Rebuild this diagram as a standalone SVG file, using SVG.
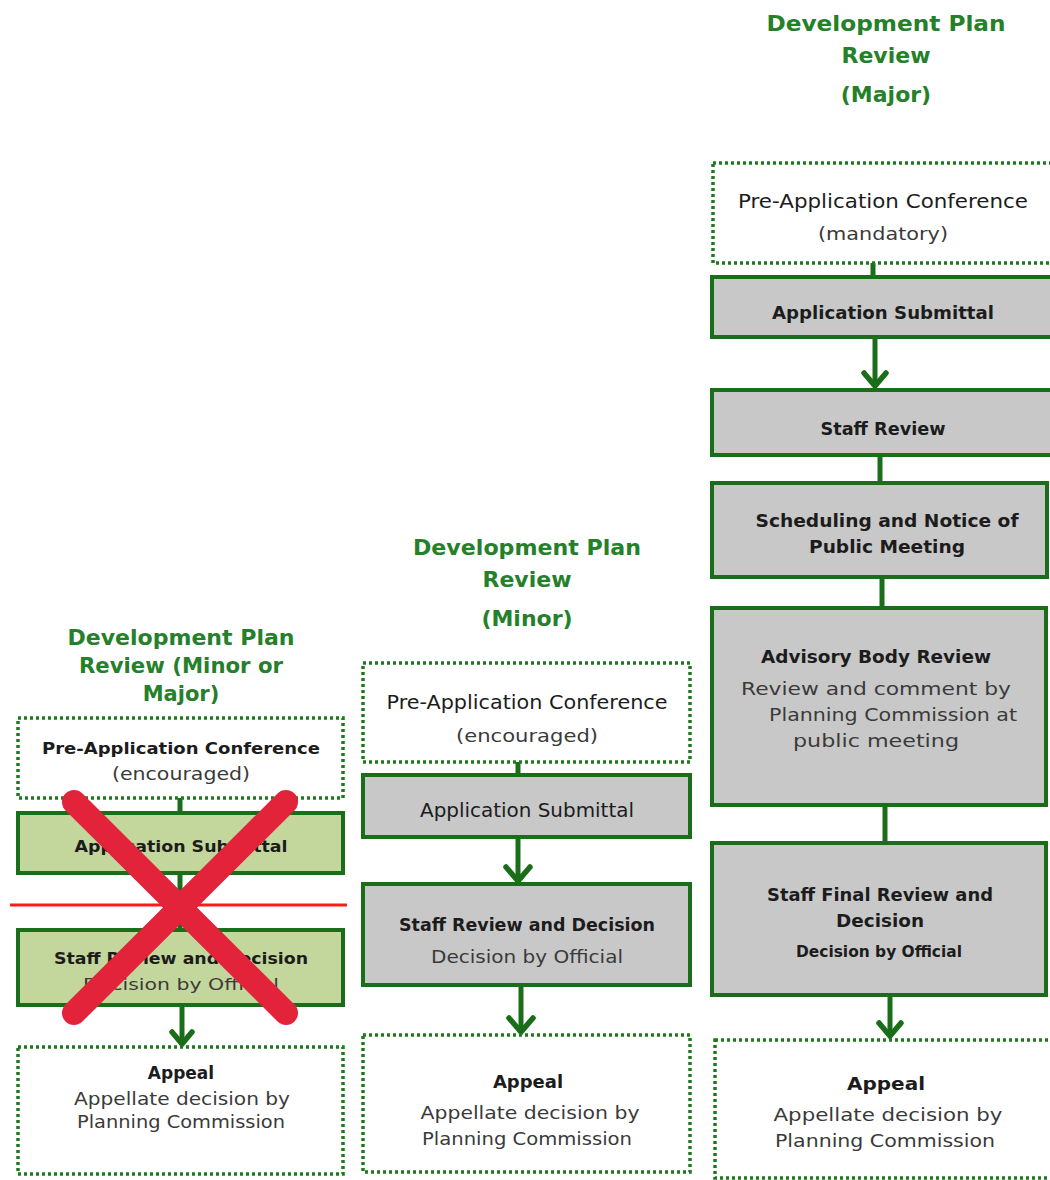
<svg xmlns="http://www.w3.org/2000/svg" width="1050" height="1180" viewBox="0 0 1050 1180">
  <style>
    .title { font-family: "DejaVu Sans", "Liberation Sans", sans-serif; font-weight: bold; fill: #25802a; text-anchor: middle; }
    .head { font-family: "DejaVu Sans", "Liberation Sans", sans-serif; font-weight: bold; fill: #1c1c1c; text-anchor: middle; }
    .sub { font-family: "DejaVu Sans", "Liberation Sans", sans-serif; fill: #3a3a3a; text-anchor: middle; }
    .dark { fill: #1c1c1c; }
    .dotted { fill: #ffffff; stroke: #1d7a1d; stroke-width: 3.5; stroke-dasharray: 3 3; }
    .solid { fill: #c8c8c8; stroke: #1a6e1a; stroke-width: 4; }
    .green { fill: #c3d69b; stroke: #1a6e1a; stroke-width: 4; }
    .link { stroke: #1a6e1a; stroke-width: 5; fill: none; }
    .head-v { stroke: #1a6e1a; stroke-width: 5.5; fill: none; stroke-linecap: round; stroke-linejoin: miter; }
  </style>

  <rect width="1050" height="1180" fill="#ffffff"/>

  <!-- column titles -->
  <g id="title-left">
    <text class="title" x="181" y="645" font-size="21" textLength="227" lengthAdjust="spacingAndGlyphs">Development Plan</text>
    <text class="title" x="181" y="673" font-size="21" textLength="204" lengthAdjust="spacingAndGlyphs">Review (Minor or</text>
    <text class="title" x="181" y="701" font-size="21">Major)</text>
  </g>
  <g id="title-mid">
    <text class="title" x="527" y="555" font-size="22" textLength="228" lengthAdjust="spacingAndGlyphs">Development Plan</text>
    <text class="title" x="527" y="587" font-size="22">Review</text>
    <text class="title" x="527" y="626" font-size="22">(Minor)</text>
  </g>
  <g id="title-right">
    <text class="title" x="886" y="31" font-size="22" textLength="239" lengthAdjust="spacingAndGlyphs">Development Plan</text>
    <text class="title" x="886" y="63" font-size="22">Review</text>
    <text class="title" x="886" y="102" font-size="22">(Major)</text>
  </g>

  <!-- connectors -->
  <g id="connectors">
    <!-- left column -->
    <line class="link" x1="180" y1="798" x2="180" y2="813"/>
    <line class="link" x1="180" y1="873" x2="180" y2="930"/>
    <line class="link" x1="182" y1="1005" x2="182" y2="1044"/>
    <polyline class="head-v" points="172,1032 182,1044 192,1032"/>
    <!-- middle column -->
    <line class="link" x1="518" y1="762" x2="518" y2="775"/>
    <line class="link" x1="518" y1="837" x2="518" y2="881"/>
    <polyline class="head-v" points="506,867 518,881 530,867"/>
    <line class="link" x1="521" y1="985" x2="521" y2="1032"/>
    <polyline class="head-v" points="509,1018 521,1032 533,1018"/>
    <!-- right column -->
    <line class="link" x1="873" y1="263" x2="873" y2="277"/>
    <line class="link" x1="875" y1="337" x2="875" y2="386"/>
    <polyline class="head-v" points="864,373 875,386 886,373"/>
    <line class="link" x1="880" y1="455" x2="880" y2="483"/>
    <line class="link" x1="882" y1="577" x2="882" y2="608"/>
    <line class="link" x1="885" y1="805" x2="885" y2="843"/>
    <line class="link" x1="890" y1="995" x2="890" y2="1036"/>
    <polyline class="head-v" points="879,1023 890,1036 901,1023"/>
  </g>

  <!-- left column: minor or major -->
  <g id="left-preapp">
    <rect class="dotted" x="18" y="718" width="325" height="80"/>
    <text class="head" x="181" y="754" font-size="16" textLength="278" lengthAdjust="spacingAndGlyphs">Pre-Application Conference</text>
    <text class="sub" x="181" y="780" font-size="17" textLength="138" lengthAdjust="spacingAndGlyphs">(encouraged)</text>
  </g>
  <g id="left-submittal">
    <rect class="green" x="18" y="813" width="325" height="60"/>
    <text class="head" x="181" y="852" font-size="16" textLength="213" lengthAdjust="spacingAndGlyphs">Application Submittal</text>
  </g>
  <g id="left-staff">
    <rect class="green" x="18" y="930" width="325" height="75"/>
    <text class="head" x="181" y="964" font-size="16" textLength="254" lengthAdjust="spacingAndGlyphs">Staff Review and Decision</text>
    <text class="sub" x="181" y="990" font-size="16" textLength="196" lengthAdjust="spacingAndGlyphs">Decision by Official</text>
  </g>
  <g id="left-appeal">
    <rect class="dotted" x="18" y="1047" width="325" height="127"/>
    <text class="head" x="181" y="1079" font-size="17">Appeal</text>
    <text class="sub" x="182" y="1105" font-size="17" textLength="216" lengthAdjust="spacingAndGlyphs">Appellate decision by</text>
    <text class="sub" x="181" y="1128" font-size="17" textLength="208" lengthAdjust="spacingAndGlyphs">Planning Commission</text>
  </g>

  <!-- strike-out over the left column -->
  <g id="strike">
    <line x1="10" y1="905" x2="347" y2="905" stroke="#ff1a1a" stroke-width="3"/>
    <line x1="74" y1="802" x2="286" y2="1013" stroke="#e2233a" stroke-width="24" stroke-linecap="round"/>
    <line x1="286" y1="802" x2="74" y2="1013" stroke="#e2233a" stroke-width="24" stroke-linecap="round"/>
  </g>

  <!-- middle column: minor -->
  <g id="mid-preapp">
    <rect class="dotted" x="363" y="663" width="327" height="99"/>
    <text class="sub dark" x="527" y="709" font-size="19" textLength="281" lengthAdjust="spacingAndGlyphs">Pre-Application Conference</text>
    <text class="sub" x="527" y="742" font-size="18" textLength="142" lengthAdjust="spacingAndGlyphs">(encouraged)</text>
  </g>
  <g id="mid-submittal">
    <rect class="solid" x="363" y="775" width="327" height="62"/>
    <text class="sub dark" x="527" y="817" font-size="19" textLength="214" lengthAdjust="spacingAndGlyphs">Application Submittal</text>
  </g>
  <g id="mid-staff">
    <rect class="solid" x="363" y="884" width="327" height="101"/>
    <text class="head" x="527" y="931" font-size="18" textLength="256" lengthAdjust="spacingAndGlyphs">Staff Review and Decision</text>
    <text class="sub" x="527" y="963" font-size="18" textLength="192" lengthAdjust="spacingAndGlyphs">Decision by Official</text>
  </g>
  <g id="mid-appeal">
    <rect class="dotted" x="363" y="1035" width="327" height="137"/>
    <text class="head" x="528" y="1088" font-size="18">Appeal</text>
    <text class="sub" x="530" y="1119" font-size="18" textLength="219" lengthAdjust="spacingAndGlyphs">Appellate decision by</text>
    <text class="sub" x="527" y="1145" font-size="18" textLength="210" lengthAdjust="spacingAndGlyphs">Planning Commission</text>
  </g>

  <!-- right column: major -->
  <g id="right-preapp">
    <rect class="dotted" x="713" y="163" width="340" height="100"/>
    <text class="sub dark" x="883" y="208" font-size="19" textLength="290" lengthAdjust="spacingAndGlyphs">Pre-Application Conference</text>
    <text class="sub" x="883" y="240" font-size="18" textLength="130" lengthAdjust="spacingAndGlyphs">(mandatory)</text>
  </g>
  <g id="right-submittal">
    <rect class="solid" x="712" y="277" width="345" height="60"/>
    <text class="head" x="883" y="319" font-size="18" textLength="222" lengthAdjust="spacingAndGlyphs">Application Submittal</text>
  </g>
  <g id="right-staff">
    <rect class="solid" x="712" y="390" width="345" height="65"/>
    <text class="head" x="883" y="435" font-size="18" textLength="125" lengthAdjust="spacingAndGlyphs">Staff Review</text>
  </g>
  <g id="right-scheduling">
    <rect class="solid" x="712" y="483" width="335" height="94"/>
    <text class="head" x="887" y="527" font-size="18" textLength="263" lengthAdjust="spacingAndGlyphs">Scheduling and Notice of</text>
    <text class="head" x="887" y="553" font-size="18" textLength="156" lengthAdjust="spacingAndGlyphs">Public Meeting</text>
  </g>
  <g id="right-advisory">
    <rect class="solid" x="712" y="608" width="334" height="197"/>
    <text class="head" x="876" y="663" font-size="18" textLength="230" lengthAdjust="spacingAndGlyphs">Advisory Body Review</text>
    <text class="sub" x="876" y="695" font-size="18" textLength="270" lengthAdjust="spacingAndGlyphs">Review and comment by</text>
    <text class="sub" x="893" y="721" font-size="18" textLength="248" lengthAdjust="spacingAndGlyphs">Planning Commission at</text>
    <text class="sub" x="876" y="747" font-size="18" textLength="166" lengthAdjust="spacingAndGlyphs">public meeting</text>
  </g>
  <g id="right-final">
    <rect class="solid" x="712" y="843" width="334" height="152"/>
    <text class="head" x="880" y="901" font-size="18" textLength="226" lengthAdjust="spacingAndGlyphs">Staff Final Review and</text>
    <text class="head" x="880" y="927" font-size="18" textLength="88" lengthAdjust="spacingAndGlyphs">Decision</text>
    <text class="head" x="879" y="957" font-size="15" textLength="166" lengthAdjust="spacingAndGlyphs">Decision by Official</text>
  </g>
  <g id="right-appeal">
    <rect class="dotted" x="715" y="1040" width="340" height="138"/>
    <text class="head" x="886" y="1090" font-size="18" textLength="78" lengthAdjust="spacingAndGlyphs">Appeal</text>
    <text class="sub" x="888" y="1121" font-size="18" textLength="229" lengthAdjust="spacingAndGlyphs">Appellate decision by</text>
    <text class="sub" x="885" y="1147" font-size="18" textLength="220" lengthAdjust="spacingAndGlyphs">Planning Commission</text>
  </g>
</svg>
